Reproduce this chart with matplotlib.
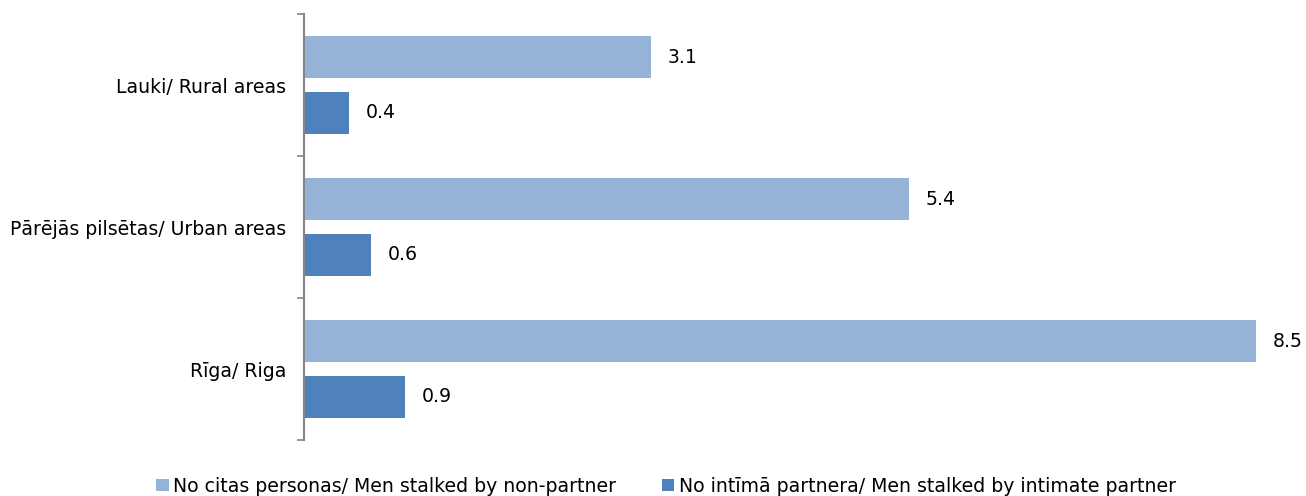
import numpy as np
import matplotlib.pyplot as plt
from matplotlib.patches import Patch

plt.rcParams['font.family'] = ['DejaVu Sans']

regions = ['Lauki/ Rural areas', 'Pārējās pilsētas/ Urban areas', 'Rīga/ Riga']
non_partner = [3.1, 5.4, 8.5]
intimate = [0.4, 0.6, 0.9]
series_names = ['No citas personas/ Men stalked by non-partner',
                'No intīmā partnera/ Men stalked by intimate partner']

c_light = '#95B3D7'
c_dark = '#4F81BD'
axis_grey = '#868686'
fs = 13.6

fig = plt.figure(figsize=(13.06, 4.96), dpi=100)
ax = fig.add_axes([304 / 1306, 56 / 496, (1256 - 304) / 1306, (440 - 14) / 496])

y = np.arange(len(regions))
h = 0.296
off = 0.197
b1 = ax.barh(y - off, non_partner, height=h, color=c_light)
b2 = ax.barh(y + off, intimate, height=h, color=c_dark)

for bars, vals in ((b1, non_partner), (b2, intimate)):
    for rect, v in zip(bars, vals):
        ax.annotate(f'{v:.1f}', xy=(rect.get_width(), rect.get_y() + rect.get_height() / 2),
                    xytext=(12, 0), textcoords='offset points', ha='left', va='center',
                    fontsize=fs, color='#000000', annotation_clip=False)

ax.set_xlim(0, 8.5)
ax.set_ylim(2.5, -0.5)

# category boundaries as ticks, names centred between them
ax.set_yticks([-0.5, 0.5, 1.5, 2.5])
ax.set_yticklabels([])
ax.set_yticks(y, minor=True)
ax.set_yticklabels(regions, minor=True, fontsize=fs)
ax.tick_params(axis='y', which='major', length=5, width=1.2, color=axis_grey)
ax.tick_params(axis='y', which='minor', length=0, pad=13)
ax.set_xticks([])

for side in ('top', 'right', 'bottom'):
    ax.spines[side].set_visible(False)
ax.spines['left'].set_color(axis_grey)
ax.spines['left'].set_linewidth(1.5)

handles = [Patch(facecolor=c_light), Patch(facecolor=c_dark)]
fig.legend(handles, series_names, loc='center', bbox_to_anchor=(666 / 1306, 1 - 486 / 496),
           ncol=2, frameon=False, fontsize=fs, handlelength=0.65, handleheight=0.65,
           handletextpad=0.25, columnspacing=2.4, borderpad=0)

fig.savefig('out.png', dpi=100)
